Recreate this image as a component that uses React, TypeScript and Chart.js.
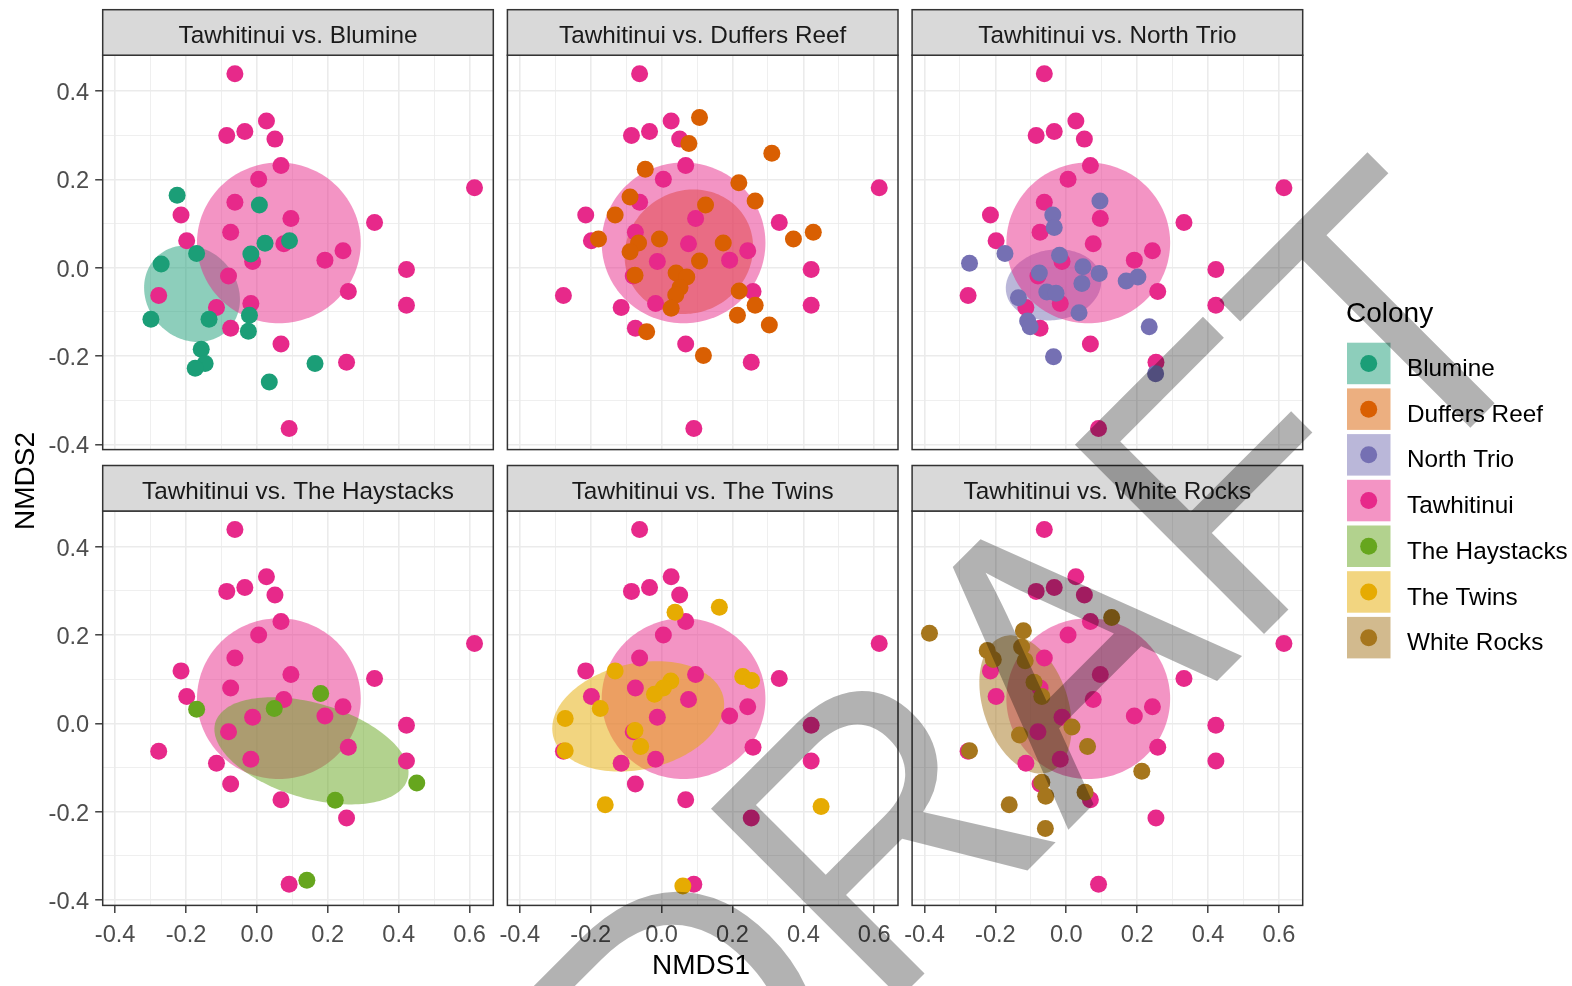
import React, { useEffect, useRef } from 'react';
import { Chart, registerables } from 'chart.js';

Chart.register(...registerables);

// ---------------- data ----------------
const COLONIES = ['Blumine', 'Duffers Reef', 'North Trio', 'Tawhitinui', 'The Haystacks', 'The Twins', 'White Rocks'];
const COLORS = ['#1B9E77', '#D95F02', '#7570B3', '#E7298A', '#66A61E', '#E6AB02', '#A6761D'];
const FACET_TITLES = [
  'Tawhitinui vs. Blumine',
  'Tawhitinui vs. Duffers Reef',
  'Tawhitinui vs. North Trio',
  'Tawhitinui vs. The Haystacks',
  'Tawhitinui vs. The Twins',
  'Tawhitinui vs. White Rocks',
];
const FACET_COLONY = [0, 1, 2, 4, 5, 6];
const TAW_INDEX = 3;
const WATERMARK = 'DRAFT';

const TAW_X = [-0.062, -0.085, -0.034, 0.027, 0.051, 0.068, 0.005, -0.062, -0.214, 0.096, 0.332, 0.614, -0.074, -0.198, 0.076, 0.243, 0.192, -0.012, 0.422, -0.080, -0.277, 0.258, -0.114, -0.017, 0.422, -0.074, 0.068, 0.253, 0.091];
const TAW_Y = [0.439, 0.299, 0.308, 0.332, 0.291, 0.231, 0.200, 0.148, 0.119, 0.111, 0.102, 0.181, 0.080, 0.061, 0.054, 0.038, 0.017, 0.014, -0.004, -0.019, -0.063, -0.054, -0.090, -0.081, -0.085, -0.137, -0.173, -0.214, -0.364];

const BLU_X = [-0.225, 0.007, -0.270, -0.170, 0.023, 0.092, -0.017, -0.299, -0.135, -0.021, -0.024, -0.157, -0.146, -0.174, 0.164, 0.035];
const BLU_Y = [0.164, 0.142, 0.008, 0.032, 0.055, 0.061, 0.031, -0.117, -0.117, -0.108, -0.144, -0.185, -0.217, -0.228, -0.217, -0.259];

const DUF_X = [0.107, 0.077, 0.311, -0.046, 0.218, 0.264, -0.089, 0.124, -0.131, -0.178, -0.065, -0.006, 0.174, 0.372, 0.428, -0.089, 0.107, 0.041, 0.071, -0.075, 0.052, 0.040, 0.027, 0.219, 0.264, 0.214, 0.304, -0.042, 0.118];
const DUF_Y = [0.340, 0.281, 0.259, 0.223, 0.192, 0.151, 0.160, 0.142, 0.119, 0.065, 0.056, 0.065, 0.056, 0.065, 0.080, 0.036, 0.015, -0.012, -0.021, -0.017, -0.045, -0.062, -0.092, -0.053, -0.085, -0.108, -0.130, -0.145, -0.199];

const NOR_X = [0.095, -0.038, -0.034, -0.173, -0.273, -0.019, -0.076, 0.047, 0.093, 0.044, 0.169, 0.202, -0.055, -0.029, -0.135, 0.036, -0.109, -0.102, 0.234, -0.036, 0.252];
const NOR_Y = [0.151, 0.119, 0.091, 0.032, 0.010, 0.028, -0.012, 0.002, -0.013, -0.036, -0.030, -0.021, -0.055, -0.058, -0.068, -0.102, -0.121, -0.134, -0.134, -0.202, -0.240];

const HAY_X = [0.180, -0.170, 0.049, 0.451, 0.221, 0.141];
const HAY_Y = [0.068, 0.032, 0.034, -0.135, -0.174, -0.355];

const TWI_X = [0.163, 0.038, -0.131, 0.229, 0.254, 0.026, 0.005, -0.020, -0.173, -0.272, -0.075, -0.059, -0.272, -0.159, 0.450, 0.060];
const TWI_Y = [0.263, 0.252, 0.119, 0.106, 0.097, 0.096, 0.080, 0.066, 0.034, 0.011, -0.016, -0.052, -0.062, -0.184, -0.188, -0.368];

const WHI_X = [-0.386, 0.128, -0.121, -0.223, -0.206, -0.126, -0.116, -0.091, -0.069, 0.016, -0.132, 0.060, -0.273, 0.213, -0.069, -0.058, 0.053, -0.161, -0.059];
const WHI_Y = [0.204, 0.240, 0.210, 0.165, 0.145, 0.173, 0.142, 0.093, 0.061, -0.008, -0.026, -0.052, -0.062, -0.108, -0.133, -0.165, -0.156, -0.184, -0.238];

// colony points, in colony order (Tawhitinui slot holds its own values)
const COLONY_X = [BLU_X, DUF_X, NOR_X, TAW_X, HAY_X, TWI_X, WHI_X];
const COLONY_Y = [BLU_Y, DUF_Y, NOR_Y, TAW_Y, HAY_Y, TWI_Y, WHI_Y];

// ellipses per colony (centre, semi-axes, rotation in data space)
const ELL_CX = [-0.183, 0.077, -0.036, 0.062, 0.154, -0.066, -0.115];
const ELL_CY = [-0.059, 0.036, -0.039, 0.056, -0.062, 0.016, 0.043];
const ELL_A = [0.137, 0.182, 0.135, 0.231, 0.279, 0.2445, 0.168];
const ELL_B = [0.107, 0.140, 0.080, 0.182, 0.109, 0.121, 0.115];
const ELL_ROT = [-15, 8, 5, 0, -12, 8.5, -60];

const X_TICKS = [-0.4, -0.3, -0.2, -0.1, 0, 0.1, 0.2, 0.3, 0.4, 0.5, 0.6];
const Y_TICKS = [-0.4, -0.3, -0.2, -0.1, 0, 0.1, 0.2, 0.3, 0.4];
const X_MIN = -0.435;
const X_MAX = 0.667;
const Y_MIN = -0.412;
const Y_MAX = 0.481;

// ---------------- layout ----------------
const W = 1572;
const H = 986;
const PANEL_LEFTS = [102.7, 507.4, 912.1];
const PANEL_W = 390.6;
const ROW_TOPS = [55.2, 511];
const PANEL_H = 394.4;
const STRIP_H = 45.5;
const Y_AXIS_W = 100;
const X_AXIS_H = 60;
const FONT = '"Liberation Sans", Arial, Helvetica, sans-serif';

const isMajor = (v: number) => Math.abs(Math.round(v * 10)) % 2 === 0;
const fmt = (v: number) => (isMajor(v) ? (Math.abs(v) < 1e-9 ? '0.0' : v.toFixed(1)) : '');

function rgba(hex: string, a: number) {
  const n = parseInt(hex.slice(1), 16);
  return `rgba(${(n >> 16) & 255},${(n >> 8) & 255},${n & 255},${a})`;
}

function axisCfg(ticksArr: number[], min: number, max: number, show: boolean, size: number, horizontal: boolean) {
  return {
    type: 'linear',
    min,
    max,
    afterBuildTicks: (s: any) => {
      s.ticks = ticksArr.map((v) => ({ value: v }));
    },
    afterFit: (s: any) => {
      if (s.isHorizontal()) s.height = size;
      else s.width = size;
      s.paddingLeft = 0;
      s.paddingRight = 0;
      s.paddingTop = 0;
      s.paddingBottom = 0;
    },
    border: { display: false },
    grid: {
      color: '#EBEBEB',
      lineWidth: (c: any) => (c.tick && isMajor(c.tick.value) ? 1.6 : 0.8),
      drawTicks: show,
      tickLength: 7.5,
      tickWidth: 1.4,
      tickColor: (c: any) => (c.tick && isMajor(c.tick.value) ? '#333333' : 'rgba(0,0,0,0)'),
    },
    ticks: {
      display: show,
      autoSkip: false,
      maxRotation: 0,
      minRotation: 0,
      padding: horizontal ? 8.5 : 6,
      labelOffset: horizontal ? 0 : 2.5,
      color: '#4D4D4D',
      font: { family: FONT, size: 23.6 },
      callback: (v: any) => fmt(Number(v)),
    },
  };
}

function drawEllipse(chart: any, k: number) {
  const ctx = chart.ctx;
  const xs = chart.scales.x;
  const ys = chart.scales.y;
  const r = (ELL_ROT[k] * Math.PI) / 180;
  ctx.beginPath();
  const n = 160;
  for (let i = 0; i <= n; i++) {
    const t = (i / n) * Math.PI * 2;
    const dx = ELL_A[k] * Math.cos(t);
    const dy = ELL_B[k] * Math.sin(t);
    const X = ELL_CX[k] + dx * Math.cos(r) - dy * Math.sin(r);
    const Y = ELL_CY[k] + dx * Math.sin(r) + dy * Math.cos(r);
    const px = xs.getPixelForValue(X);
    const py = ys.getPixelForValue(Y);
    if (i === 0) ctx.moveTo(px, py);
    else ctx.lineTo(px, py);
  }
  ctx.closePath();
  ctx.fillStyle = rgba(COLORS[k], 0.5);
  ctx.fill();
}

function makePlugin(idx: number) {
  const other = FACET_COLONY[idx];
  return {
    id: 'panelDecor' + idx,
    beforeDatasetsDraw(chart: any) {
      const ctx = chart.ctx;
      const a = chart.chartArea;
      ctx.save();
      ctx.beginPath();
      ctx.rect(a.left, a.top, a.right - a.left, a.bottom - a.top);
      ctx.clip();
      const order = [other, TAW_INDEX].sort((p, q) => p - q);
      order.forEach((k) => drawEllipse(chart, k));
      ctx.restore();
    },
    afterDatasetsDraw(chart: any) {
      const ctx = chart.ctx;
      const a = chart.chartArea;
      ctx.save();
      ctx.strokeStyle = '#333333';
      ctx.lineWidth = 1.5;
      ctx.strokeRect(a.left, a.top, a.right - a.left, a.bottom - a.top);
      const st = a.top - STRIP_H;
      ctx.fillStyle = '#D9D9D9';
      ctx.fillRect(a.left, st, a.right - a.left, STRIP_H);
      ctx.strokeRect(a.left, st, a.right - a.left, STRIP_H);
      ctx.fillStyle = '#1A1A1A';
      ctx.font = `24.3px ${FONT}`;
      ctx.textAlign = 'center';
      ctx.textBaseline = 'alphabetic';
      ctx.fillText(FACET_TITLES[idx], (a.left + a.right) / 2, st + 33.5);
      ctx.restore();
    },
    afterDraw(chart: any) {
      if (idx !== 5) return;
      const ctx = chart.ctx;
      ctx.save();
      // axis titles
      ctx.fillStyle = '#000000';
      ctx.font = `28px ${FONT}`;
      ctx.textAlign = 'center';
      ctx.textBaseline = 'middle';
      ctx.fillText('NMDS1', 701, 966);
      ctx.save();
      ctx.translate(26, 481);
      ctx.rotate(-Math.PI / 2);
      ctx.fillText('NMDS2', 0, 0);
      ctx.restore();
      // legend
      ctx.textAlign = 'left';
      ctx.textBaseline = 'alphabetic';
      ctx.font = `28px ${FONT}`;
      ctx.fillText('Colony', 1346, 322);
      ctx.font = `24.3px ${FONT}`;
      COLONIES.forEach((name, k) => {
        const y0 = 342.7 + k * 45.7;
        ctx.fillStyle = rgba(COLORS[k], 0.5);
        ctx.fillRect(1347, y0, 43.5, 41.5);
        ctx.fillStyle = COLORS[k];
        ctx.beginPath();
        ctx.arc(1368.7, y0 + 20.75, 8.5, 0, Math.PI * 2);
        ctx.fill();
        ctx.fillStyle = '#000000';
        ctx.fillText(name, 1407, y0 + 20.75 + 12.6);
      });
      ctx.restore();
    },
  };
}

function makeConfig(idx: number): any {
  const row = Math.floor(idx / 3);
  const col = idx % 3;
  const showX = row === 1;
  const showY = col === 0;
  const xH = showX ? X_AXIS_H : 0;
  const yW = showY ? Y_AXIS_W : 0;
  const L = PANEL_LEFTS[col];
  const T = ROW_TOPS[row];
  const R = L + PANEL_W;
  const B = T + PANEL_H;
  const other = FACET_COLONY[idx];
  const pts = (k: number) => COLONY_X[k].map((x, i) => ({ x, y: COLONY_Y[k][i] }));
  return {
    type: 'scatter',
    data: {
      datasets: [
        {
          label: COLONIES[other],
          data: pts(other),
          backgroundColor: COLORS[other],
          borderWidth: 0,
          pointRadius: 8.5,
          pointHoverRadius: 8.5,
        },
        {
          label: COLONIES[TAW_INDEX],
          data: pts(TAW_INDEX),
          backgroundColor: COLORS[TAW_INDEX],
          borderWidth: 0,
          pointRadius: 8.5,
          pointHoverRadius: 8.5,
        },
      ],
    },
    options: {
      responsive: false,
      maintainAspectRatio: false,
      animation: false,
      devicePixelRatio: 1,
      events: [],
      layout: {
        autoPadding: false,
        padding: { left: L - yW, top: T, right: W - R, bottom: H - B - xH },
      },
      plugins: { legend: { display: false }, tooltip: { enabled: false }, title: { display: false } },
      scales: {
        x: axisCfg(X_TICKS, X_MIN, X_MAX, showX, xH, true),
        y: axisCfg(Y_TICKS, Y_MIN, Y_MAX, showY, yW, false),
      },
    },
    plugins: [makePlugin(idx)],
  };
}

function Panel({ idx }: { idx: number }) {
  const ref = useRef<HTMLCanvasElement>(null);
  useEffect(() => {
    const chart = new Chart(ref.current as HTMLCanvasElement, makeConfig(idx));
    return () => chart.destroy();
  }, [idx]);
  return (
    <canvas
      ref={ref}
      width={W}
      height={H}
      style={{ position: 'absolute', left: 0, top: 0, width: W, height: H }}
    />
  );
}

function Watermark() {
  const ref = useRef<HTMLCanvasElement>(null);
  useEffect(() => {
    const cv = ref.current as HTMLCanvasElement;
    const ctx = cv.getContext('2d') as CanvasRenderingContext2D;
    ctx.clearRect(0, 0, W, H);
    ctx.save();
    ctx.translate(1126, 772);
    ctx.rotate(-Math.PI / 4);
    ctx.scale(1.015, 1.065);
    ctx.font = `365px ${FONT}`;
    ctx.textAlign = 'center';
    ctx.textBaseline = 'alphabetic';
    ctx.fillStyle = 'rgba(0,0,0,0.3)';
    ctx.fillText(WATERMARK, 0, 0);
    ctx.restore();
  }, []);
  return (
    <canvas
      ref={ref}
      width={W}
      height={H}
      style={{ position: 'absolute', left: 0, top: 0, width: W, height: H, zIndex: 10, pointerEvents: 'none' }}
    />
  );
}

export default function App() {
  return (
    <div
      style={{
        position: 'fixed',
        left: 0,
        top: 0,
        width: W,
        height: H,
        background: '#FFFFFF',
        overflow: 'hidden',
      }}
    >
      {[0, 1, 2, 3, 4, 5].map((i) => (
        <Panel key={i} idx={i} />
      ))}
      <Watermark />
    </div>
  );
}
